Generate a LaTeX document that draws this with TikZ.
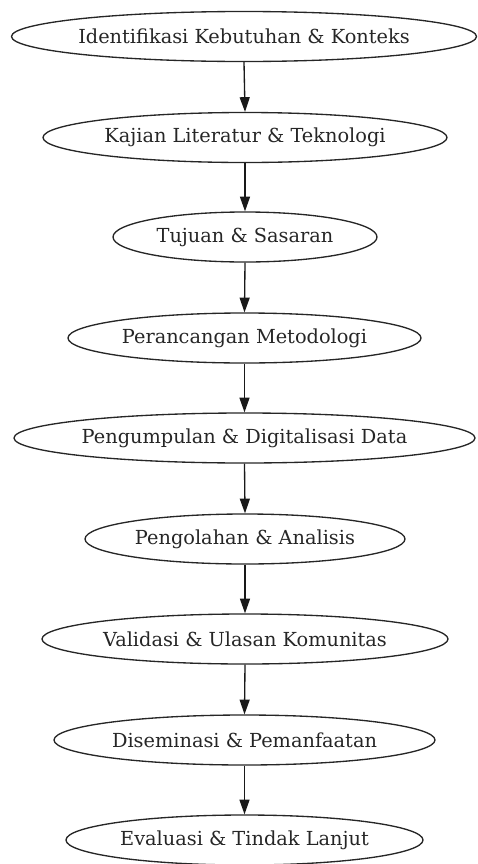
\documentclass[tikz,border=0pt]{standalone}
\usepackage{fontspec}
\setmainfont{DejaVu Serif}
\usetikzlibrary{shapes.geometric,arrows.meta}
\begin{document}
\begin{tikzpicture}[x=0.75pt,y=-0.75pt,
  stage/.style={ellipse,draw=black!85,line width=1pt,inner sep=0pt,minimum height=37.5pt,font=\fontsize{14.5}{17}\selectfont,text=black!85},
  flow/.style={draw=black!90,line width=1pt,-{Triangle[length=11pt,width=7.5pt]}}]
\useasboundingbox (0,0) rectangle (478,864);
\newcommand{\stg}[5]{\node[stage,minimum width=#4*0.75pt] (#1) at (#2,#3) {\makebox[0pt]{#5}};}
\stg{n1}{244}{36.5}{465}{Identifikasi Kebutuhan \& Konteks}
\stg{n2}{245}{137.5}{404}{Kajian Literatur \& Teknologi}
\stg{n3}{245}{237}{264}{Tujuan \& Sasaran}
\stg{n4}{244.5}{338}{353}{Perancangan Metodologi}
\stg{n5}{244.5}{438}{461}{Pengumpulan \& Digitalisasi Data}
\stg{n6}{245}{539}{320}{Pengolahan \& Analisis}
\stg{n7}{245}{639}{406}{Validasi \& Ulasan Komunitas}
\stg{n8}{244.5}{740}{381}{Diseminasi \& Pemanfaatan}
\stg{n9}{244.5}{840}{357}{Evaluasi \& Tindak Lanjut}
\foreach \a/\b in {n1/n2,n2/n3,n3/n4,n4/n5,n5/n6,n6/n7,n7/n8,n8/n9}
  \draw[flow] (\a.south) -- (\b.north);
\end{tikzpicture}
\end{document}
